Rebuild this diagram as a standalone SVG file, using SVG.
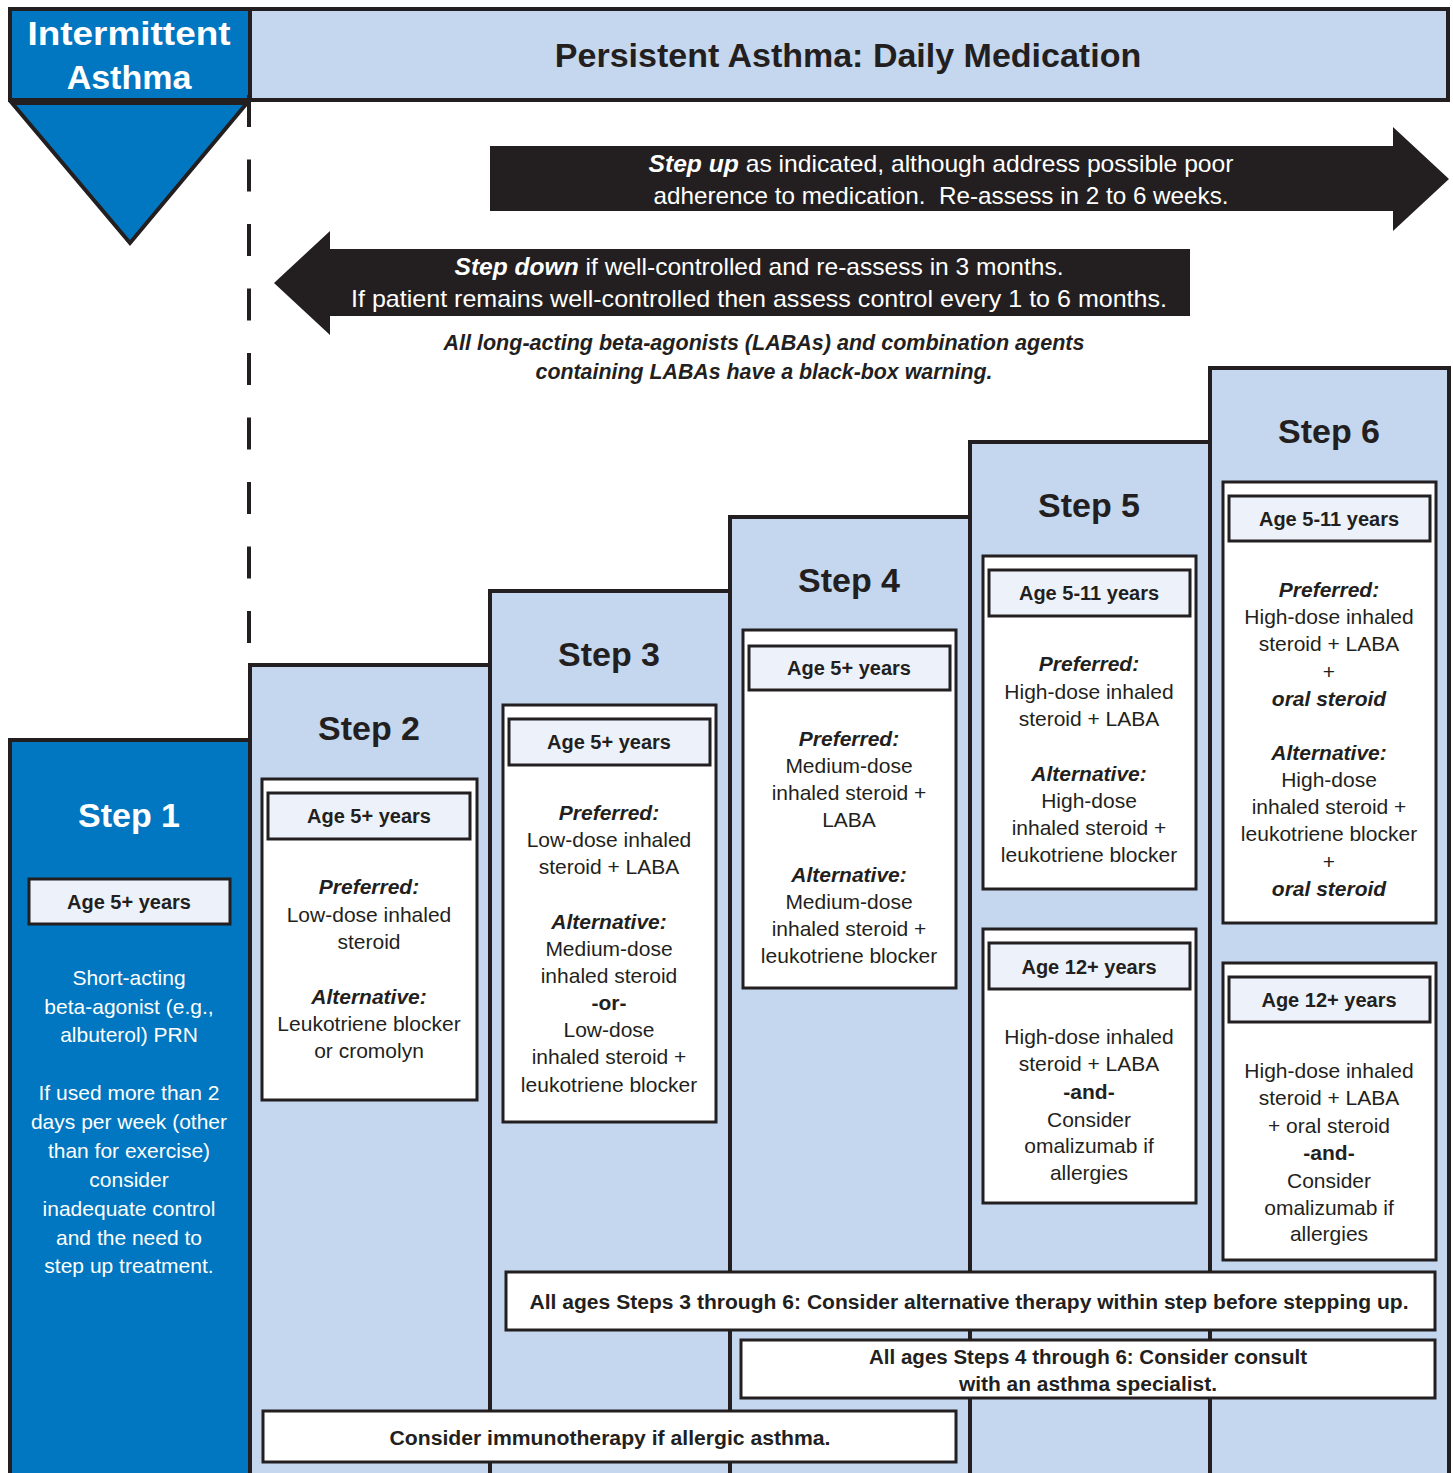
<svg xmlns="http://www.w3.org/2000/svg" width="1453" height="1473" viewBox="0 0 1453 1473">
<style>
.col{fill:#C5D7EE;stroke:#231F20;stroke-width:4}
.wbox{fill:#FFFFFF;stroke:#231F20;stroke-width:3}
.abox{fill:#EDF2FA;stroke:#231F20;stroke-width:3}
.t{font-family:"Liberation Sans",Arial,sans-serif;text-anchor:middle;fill:#231F20}
.b{font-weight:bold}
.bi{font-weight:bold;font-style:italic}
.title{font-size:34px;font-weight:bold}
.age{font-size:20px;font-weight:bold}
.body{font-size:21px}
.wt{fill:#FFFFFF}
.arrow{fill:#231F20}
.note{font-size:20px;font-weight:bold}
</style>

<g id="header">
  <rect x="10" y="9" width="240" height="91" fill="#0077C0" stroke="#231F20" stroke-width="4"/>
  <rect x="250" y="9" width="1198" height="91" fill="#C5D7EE" stroke="#231F20" stroke-width="4"/>
  <text class="t title wt" x="129" y="45" font-size="36" textLength="203" lengthAdjust="spacingAndGlyphs">Intermittent</text>
  <text class="t title wt" x="129" y="89">Asthma</text>
  <text class="t title" x="848" y="67">Persistent Asthma: Daily Medication</text>
</g>

<g id="intermittent-triangle">
  <polygon points="12,103 247,103 130,243" fill="#0077C0" stroke="#231F20" stroke-width="4" stroke-linejoin="miter"/>
</g>

<g id="connectors">
  <line x1="249" y1="95" x2="249" y2="663" stroke="#231F20" stroke-width="4" stroke-dasharray="32 32.5"/>
  <polygon class="arrow" points="490,146 1393,146 1393,127 1449,179 1393,231 1393,211 490,211"/>
  <polygon class="arrow" points="1190,249 330,249 330,231 274,283 330,335 330,316 1190,316"/>
</g>

<g id="arrow-texts">
  <text class="t wt" x="941" y="172" font-size="24" textLength="585" lengthAdjust="spacingAndGlyphs"><tspan class="bi">Step up</tspan> as indicated, although address possible poor</text>
  <text class="t wt" x="941" y="204" font-size="24" textLength="575" lengthAdjust="spacingAndGlyphs" xml:space="preserve">adherence to medication.  Re-assess in 2 to 6 weeks.</text>
  <text class="t wt" x="759" y="275" font-size="24" textLength="609" lengthAdjust="spacingAndGlyphs"><tspan class="bi">Step down</tspan> if well-controlled and re-assess in 3 months.</text>
  <text class="t wt" x="759" y="307" font-size="24" textLength="816" lengthAdjust="spacingAndGlyphs">If patient remains well-controlled then assess control every 1 to 6 months.</text>
</g>

<g id="laba-warning">
  <text class="t bi" x="764" y="350" font-size="22" textLength="641" lengthAdjust="spacingAndGlyphs">All long-acting beta-agonists (LABAs) and combination agents</text>
  <text class="t bi" x="764" y="379" font-size="22" textLength="457" lengthAdjust="spacingAndGlyphs">containing LABAs have a black-box warning.</text>
</g>

<g id="step6">
  <rect class="col" x="1210" y="368" width="239" height="1200"/>
  <text class="t title" x="1329" y="443">Step 6</text>
  <rect class="wbox" x="1223" y="482" width="213" height="441"/>
  <rect class="abox" x="1229" y="496" width="201" height="45"/>
  <text class="t age" x="1329" y="526">Age 5-11 years</text>
  <text class="t body"><tspan class="bi" x="1329" y="597">Preferred:</tspan><tspan x="1329" y="624">High-dose inhaled</tspan><tspan x="1329" y="651">steroid + LABA</tspan><tspan x="1329" y="679">+</tspan><tspan class="bi" x="1329" y="706">oral steroid</tspan><tspan class="bi" x="1329" y="760">Alternative:</tspan><tspan x="1329" y="787">High-dose</tspan><tspan x="1329" y="814">inhaled steroid +</tspan><tspan x="1329" y="841">leukotriene blocker</tspan><tspan x="1329" y="869">+</tspan><tspan class="bi" x="1329" y="896">oral steroid</tspan></text>
  <rect class="wbox" x="1223" y="963" width="213" height="297"/>
  <rect class="abox" x="1229" y="977" width="201" height="45"/>
  <text class="t age" x="1329" y="1007">Age 12+ years</text>
  <text class="t body"><tspan x="1329" y="1078">High-dose inhaled</tspan><tspan x="1329" y="1105">steroid + LABA</tspan><tspan x="1329" y="1133">+ oral steroid</tspan><tspan class="b" x="1329" y="1160">-and-</tspan><tspan x="1329" y="1188">Consider</tspan><tspan x="1329" y="1215">omalizumab if</tspan><tspan x="1329" y="1241">allergies</tspan></text>
</g>

<g id="step5">
  <rect class="col" x="970" y="442" width="240" height="1200"/>
  <text class="t title" x="1089" y="517">Step 5</text>
  <rect class="wbox" x="983" y="556" width="213" height="333"/>
  <rect class="abox" x="989" y="570" width="201" height="46"/>
  <text class="t age" x="1089" y="600">Age 5-11 years</text>
  <text class="t body"><tspan class="bi" x="1089" y="671">Preferred:</tspan><tspan x="1089" y="699">High-dose inhaled</tspan><tspan x="1089" y="726">steroid + LABA</tspan><tspan class="bi" x="1089" y="781">Alternative:</tspan><tspan x="1089" y="808">High-dose</tspan><tspan x="1089" y="835">inhaled steroid +</tspan><tspan x="1089" y="862">leukotriene blocker</tspan></text>
  <rect class="wbox" x="983" y="929" width="213" height="274"/>
  <rect class="abox" x="989" y="943" width="201" height="46"/>
  <text class="t age" x="1089" y="974">Age 12+ years</text>
  <text class="t body"><tspan x="1089" y="1044">High-dose inhaled</tspan><tspan x="1089" y="1071">steroid + LABA</tspan><tspan class="b" x="1089" y="1099">-and-</tspan><tspan x="1089" y="1127">Consider</tspan><tspan x="1089" y="1153">omalizumab if</tspan><tspan x="1089" y="1180">allergies</tspan></text>
</g>

<g id="step4">
  <rect class="col" x="730" y="517" width="240" height="1200"/>
  <text class="t title" x="849" y="592">Step 4</text>
  <rect class="wbox" x="743" y="630" width="213" height="358"/>
  <rect class="abox" x="749" y="646" width="201" height="44"/>
  <text class="t age" x="849" y="675">Age 5+ years</text>
  <text class="t body"><tspan class="bi" x="849" y="746">Preferred:</tspan><tspan x="849" y="773">Medium-dose</tspan><tspan x="849" y="800">inhaled steroid +</tspan><tspan x="849" y="827">LABA</tspan><tspan class="bi" x="849" y="882">Alternative:</tspan><tspan x="849" y="909">Medium-dose</tspan><tspan x="849" y="936">inhaled steroid +</tspan><tspan x="849" y="963">leukotriene blocker</tspan></text>
</g>

<g id="step3">
  <rect class="col" x="490" y="591" width="240" height="1200"/>
  <text class="t title" x="609" y="666">Step 3</text>
  <rect class="wbox" x="503" y="705" width="213" height="417"/>
  <rect class="abox" x="509" y="719" width="201" height="46"/>
  <text class="t age" x="609" y="749">Age 5+ years</text>
  <text class="t body"><tspan class="bi" x="609" y="820">Preferred:</tspan><tspan x="609" y="847">Low-dose inhaled</tspan><tspan x="609" y="874">steroid + LABA</tspan><tspan class="bi" x="609" y="929">Alternative:</tspan><tspan x="609" y="956">Medium-dose</tspan><tspan x="609" y="983">inhaled steroid</tspan><tspan class="b" x="609" y="1010">-or-</tspan><tspan x="609" y="1037">Low-dose</tspan><tspan x="609" y="1064">inhaled steroid +</tspan><tspan x="609" y="1092">leukotriene blocker</tspan></text>
</g>

<g id="step2">
  <rect class="col" x="250" y="665" width="240" height="1200"/>
  <text class="t title" x="369" y="740">Step 2</text>
  <rect class="wbox" x="262" y="779" width="215" height="321"/>
  <rect class="abox" x="268" y="793" width="202" height="46"/>
  <text class="t age" x="369" y="823">Age 5+ years</text>
  <text class="t body"><tspan class="bi" x="369" y="894">Preferred:</tspan><tspan x="369" y="922">Low-dose inhaled</tspan><tspan x="369" y="949">steroid</tspan><tspan class="bi" x="369" y="1004">Alternative:</tspan><tspan x="369" y="1031">Leukotriene blocker</tspan><tspan x="369" y="1058">or cromolyn</tspan></text>
</g>

<g id="step1">
  <rect x="10" y="740" width="240" height="1200" fill="#0077C0" stroke="#231F20" stroke-width="4"/>
  <text class="t title wt" x="129" y="827">Step 1</text>
  <rect class="abox" x="29" y="879" width="201" height="45"/>
  <text class="t age" x="129" y="909">Age 5+ years</text>
  <text class="t body wt"><tspan x="129" y="985">Short-acting</tspan><tspan x="129" y="1014">beta-agonist (e.g.,</tspan><tspan x="129" y="1042">albuterol) PRN</tspan><tspan x="129" y="1100">If used more than 2</tspan><tspan x="129" y="1129">days per week (other</tspan><tspan x="129" y="1158">than for exercise)</tspan><tspan x="129" y="1187">consider</tspan><tspan x="129" y="1216">inadequate control</tspan><tspan x="129" y="1245">and the need to</tspan><tspan x="129" y="1273">step up treatment.</tspan></text>
</g>

<g id="note-steps3-6">
  <rect class="wbox" x="506" y="1272" width="929" height="58"/>
  <text class="t note" x="969" y="1309" textLength="879" lengthAdjust="spacingAndGlyphs">All ages Steps 3 through 6: Consider alternative therapy within step before stepping up.</text>
</g>
<g id="note-steps4-6">
  <rect class="wbox" x="741" y="1340" width="694" height="58"/>
  <text class="t note" x="1088" y="1364" textLength="438" lengthAdjust="spacingAndGlyphs">All ages Steps 4 through 6: Consider consult</text>
  <text class="t note" x="1088" y="1391" textLength="258" lengthAdjust="spacingAndGlyphs">with an asthma specialist.</text>
</g>
<g id="note-immunotherapy">
  <rect class="wbox" x="263" y="1411" width="693" height="51"/>
  <text class="t note" x="610" y="1445" textLength="441" lengthAdjust="spacingAndGlyphs">Consider immunotherapy if allergic asthma.</text>
</g>
</svg>
